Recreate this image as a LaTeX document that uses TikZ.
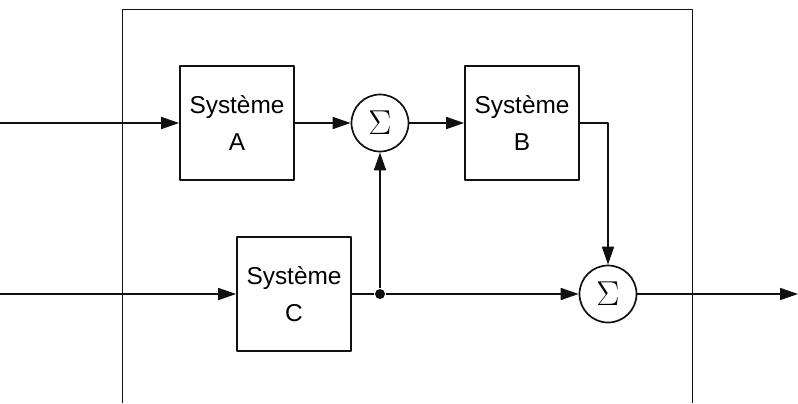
\documentclass[tikz,border=0pt]{standalone}
\usepackage{fontspec}
\setmainfont{Liberation Sans}
\usepackage{tikz}
\usetikzlibrary{arrows.meta}
\definecolor{ink}{HTML}{111111}
\tikzset{fig/.style={line join=round,line width=0.85pt,draw=ink,>={Triangle[length=9pt,width=6pt]}},
  blk/.style={draw,minimum width=57pt,minimum height=57pt,align=center,font=\fontsize{12.2}{18.5}\selectfont,inner sep=0pt},
  sumnode/.style={draw,circle,minimum size=28.5pt,inner sep=0pt,font=\fontsize{16}{16}\selectfont},
  dotnode/.style={circle,fill=ink,minimum size=5pt,inner sep=0pt}}

\begin{document}
\begin{tikzpicture}[fig,x=0.5pt,y=-0.5pt]
  \useasboundingbox(0,0)rectangle(798,403);
  \draw(122.5,403)|-(692.5,9.5)--(692.5,403);
  \node[blk](sysA)at(237,123){Système\\A};\node[sumnode](sumA)at(380,123){$\Sigma$};
  \node[blk](sysB)at(522,123){Système\\B};\node[blk](sysC)at(294,294){Système\\C};
  \node[sumnode](sumB)at(608,294){$\Sigma$};\node[dotnode](split)at(380,294){};
  \coordinate(inA)at(0,123);\coordinate(inC)at(0,294);\coordinate(out)at(798,294);
  \draw[->](inA)--(sysA);\draw[->](sysA)--(sumA);\draw[->](sumA)--(sysB);
  \draw[->](sysB.east)-|(sumB.north);
  \draw[->](inC)--(sysC);\draw(sysC)--(split);\draw[->](split)--(sumB);
  \draw[->](split)--(sumA);\draw[->](sumB)--(out);
\end{tikzpicture}
\end{document}
